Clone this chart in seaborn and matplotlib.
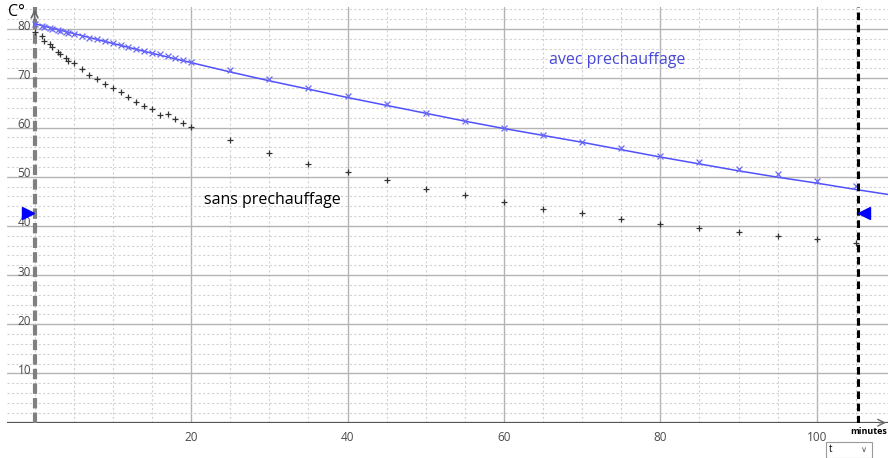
import matplotlib.pyplot as plt
import seaborn as sns
import numpy as np
import pandas as pd
from matplotlib.ticker import MultipleLocator
from matplotlib.patches import Rectangle

# mesures (minutes, degres)
t_sans = [0, 1, 1.25, 2, 2.25, 3, 3.25, 4, 4.25, 5, 6, 7, 8, 9, 10, 11, 12, 13, 14, 15, 16, 17,
          18, 19, 20, 25, 30, 35, 40, 45, 50, 55, 60, 65, 70, 75, 80, 85, 90, 95, 100, 105]
T_sans = [79.4, 78.6, 77.6, 76.9, 76.4, 75.3, 74.9, 74.1, 73.5, 73.2, 71.8, 70.7, 69.9, 68.8,
          68.1, 67.2, 66.3, 65.1, 64.4, 63.7, 62.5, 62.7, 61.7, 60.9, 60.2, 57.5, 54.8, 52.5,
          51.0, 49.3, 47.6, 46.3, 44.8, 43.5, 42.6, 41.4, 40.4, 39.5, 38.8, 37.9, 37.4, 36.5]

t_avec = t_sans
T_avec = [81.0, 80.6, 80.5, 80.2, 80.1, 79.8, 79.7, 79.4, 79.3, 79.1, 78.7, 78.3, 77.9, 77.5,
          77.2, 76.8, 76.4, 76.0, 75.6, 75.2, 74.9, 74.5, 74.1, 73.7, 73.4, 71.6, 69.9, 68.1,
          66.4, 64.7, 63.0, 61.4, 60.0, 58.5, 57.1, 55.9, 54.3, 53.0, 51.6, 50.5, 49.2, 48.2]

# courbe de modelisation
t_model = [0, 5, 10, 15, 20, 25, 30, 35, 40, 45, 50, 55, 60, 65, 70, 75, 80, 85, 90, 95,
           100, 105, 109.5]
T_model = [81.1, 79.1, 77.1, 75.1, 73.2, 71.3, 69.5, 67.8, 66.1, 64.5, 62.9, 61.3, 59.8,
           58.4, 57.0, 55.5, 54.0, 52.6, 51.2, 49.9, 48.7, 47.4, 46.3]

x_ticks = [20, 40, 60, 80, 100]
y_ticks = [10, 20, 30, 40, 50, 60, 70, 80]

cursor_t = 105.3
cursor_y = 42.6

df_sans = pd.DataFrame({'t': t_sans, 'T': T_sans})
df_avec = pd.DataFrame({'t': t_avec, 'T': T_avec})
df_model = pd.DataFrame({'t': t_model, 'T': T_model})

sns.set_theme(style='white')
plt.rcParams['font.family'] = ['Open Sans', 'DejaVu Sans']

fig = plt.figure(figsize=(8.88, 4.58), dpi=100)
ax = fig.add_axes([0.0079, 0.0771, 0.9921, 0.9076])

ax.set_xlim(-3.53, 109.1)
ax.set_ylim(0, 84.5)

ax.xaxis.set_major_locator(MultipleLocator(20))
ax.xaxis.set_minor_locator(MultipleLocator(5))
ax.yaxis.set_major_locator(MultipleLocator(10))
ax.yaxis.set_minor_locator(MultipleLocator(2))
ax.grid(which='major', color='#b4b4b4', lw=1.0, ls='-')
ax.grid(which='minor', color='#d2d2d2', lw=0.8, ls=(0, (2, 2)))
ax.set_axisbelow(True)

for s in ax.spines.values():
    s.set_visible(False)
ax.axhline(0, color='#555555', lw=1.6, zorder=3)
ax.axvline(0, color='#808080', lw=3, ls=(0, (2.5, 1)), zorder=3)

sns.lineplot(data=df_model, x='t', y='T', ax=ax, color='#5050ff', lw=1.1, zorder=4)
sns.scatterplot(data=df_avec, x='t', y='T', ax=ax, marker='x', s=18, color='#6a6af5',
                linewidth=0.9, zorder=5)
sns.scatterplot(data=df_sans, x='t', y='T', ax=ax, marker='+', s=16, color='#333333',
                linewidth=0.9, zorder=5)

ax.axvline(cursor_t, color='black', lw=2.2, ls=(0, (2.5, 1.5)), zorder=6)
ax.plot([-0.9], [cursor_y], marker='>', ms=9, color='#0000ff', ls='none', zorder=7,
        clip_on=False)
ax.plot([cursor_t + 0.75], [cursor_y], marker='<', ms=9, color='#0000ff', ls='none', zorder=7)

# fleches des axes
ax.annotate('', xy=(0, 84.6), xytext=(0, 81.4),
            arrowprops=dict(arrowstyle='->', color='#666666', lw=1.2), zorder=6)
ax.annotate('', xy=(109.2, 0), xytext=(107.6, 0),
            arrowprops=dict(arrowstyle='->', color='#666666', lw=1), annotation_clip=False)

ax.set_xlabel('')
ax.set_ylabel('')
ax.tick_params(which='both', length=0)
ax.set_xticks(x_ticks)
ax.set_xticklabels([str(v) for v in x_ticks], fontsize=8.5, color='#4a4a4a')
ax.tick_params(axis='x', pad=6)
ax.set_yticks(y_ticks)
ax.set_yticklabels([])
# graduations de l'axe vertical dessinees a l'interieur du cadre
for v in y_ticks:
    ax.text(-0.45, v + 0.6, str(v), fontsize=8.5, color='#4a4a4a', ha='right', va='center',
            zorder=6)

ax.text(74.5, 73.7, 'avec prechauffage', color='#4848d8', fontsize=11.5,
        ha='center', va='center')
ax.text(30.4, 45.2, 'sans prechauffage', color='black', fontsize=11.5,
        ha='center', va='center')

fig.text(8 / 888, 1 - 12 / 458, 'C°', fontsize=11.5, color='black', ha='left', va='center')
fig.text(869 / 888, 1 - 432 / 458, 'minutes', fontsize=6.5, fontweight='bold',
         color='black', ha='center', va='center')

# petite liste deroulante
fig.patches.append(Rectangle((826 / 888, 0), 46 / 888, 16 / 458, transform=fig.transFigure,
                             facecolor='white', edgecolor='#9a9a9a', lw=0.8))
fig.text(829 / 888, 1 - 450 / 458, 't', fontsize=7, color='black', ha='left', va='center')
fig.text(864 / 888, 1 - 450 / 458, '\u2228', fontsize=6, color='#555555', ha='center',
         va='center', family='DejaVu Sans')

fig.savefig('out.png', dpi=100)
